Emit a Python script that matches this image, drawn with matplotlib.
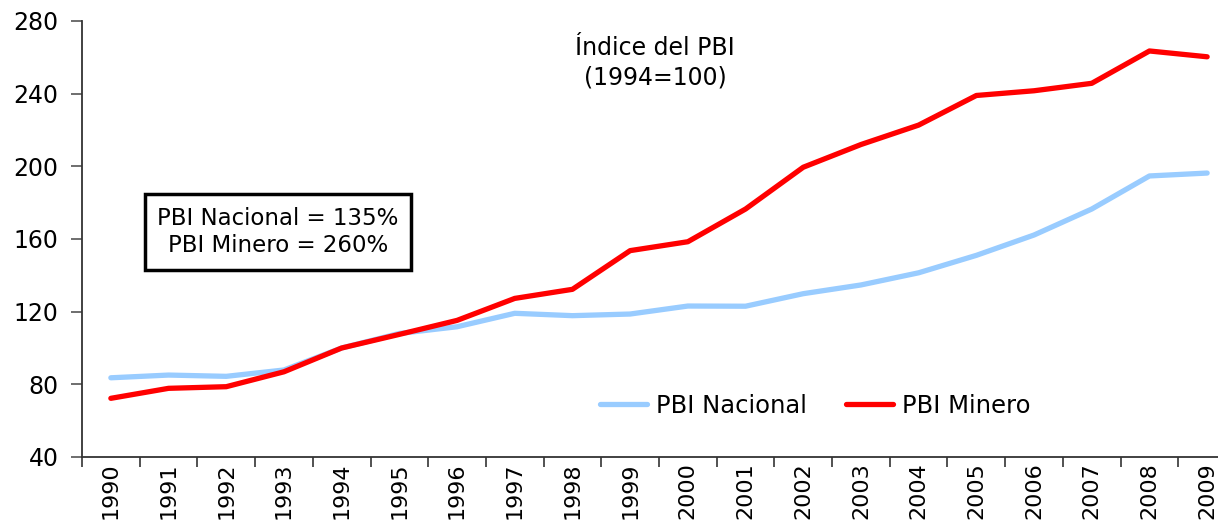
import numpy as np
import matplotlib.pyplot as plt

years = [str(y) for y in range(1990, 2010)]
pbi_nacional = [83.6, 85.1, 84.4, 87.9, 100.0, 108.0, 111.7, 119.1, 117.8, 118.7,
                123.1, 123.0, 129.9, 134.7, 141.4, 151.0, 162.2, 176.5, 194.7, 196.3]
pbi_minero = [72.3, 77.8, 78.7, 86.9, 100.0, 107.5, 115.2, 127.3, 132.3, 153.6,
              158.5, 176.5, 199.5, 212.0, 222.7, 239.0, 241.6, 245.7, 263.5, 260.3]

fig = plt.figure(figsize=(12.18, 5.22), dpi=100)
ax = fig.add_axes([82 / 1218, 65 / 522, 1154 / 1218, 436 / 522])

x = np.arange(len(years))
ax.plot(x, pbi_nacional, color='#99CCFF', lw=3.8, label='PBI Nacional', solid_capstyle='round')
ax.plot(x, pbi_minero, color='#FF0000', lw=3.8, label='PBI Minero', solid_capstyle='round')

ax.set_xlim(-0.5, len(years) - 0.5)
ax.set_ylim(40, 280)
ax.set_yticks(range(40, 281, 40))
ax.tick_params(axis='y', labelsize=17, length=8, width=1.2, color='#555555', pad=9)

# categorias con marcas entre años
ax.set_xticks(x)
ax.set_xticklabels(years, rotation=90, fontsize=16)
ax.tick_params(axis='x', length=0, pad=4)
ax.set_xticks(np.arange(-0.5, len(years), 1), minor=True)
ax.tick_params(axis='x', which='minor', length=7, width=1.2, color='#333333')

for s in ['top', 'right']:
    ax.spines[s].set_visible(False)
for s in ['left', 'bottom']:
    ax.spines[s].set_color('#333333')
    ax.spines[s].set_linewidth(1.3)

ax.text((655 - 82) / 1154, (457 - 36) / 436, 'Índice del PBI\n(1994=100)', transform=ax.transAxes,
        ha='center', va='top', fontsize=17, linespacing=1.3)

ax.text((278 - 82) / 1154, (457 - 232) / 436, 'PBI Nacional = 135%\nPBI Minero = 260%',
        transform=ax.transAxes, ha='center', va='center', fontsize=16.5, linespacing=1.25,
        bbox=dict(boxstyle='square,pad=0.55', fc='white', ec='black', lw=2.5))

ax.legend(loc='center left', bbox_to_anchor=((600 - 82) / 1154, (457 - 406) / 436), ncol=2,
          frameon=False, fontsize=17.5, handlelength=1.95, columnspacing=1.6,
          handletextpad=0.35, borderaxespad=0, borderpad=0)

fig.savefig('out.png', dpi=100)
